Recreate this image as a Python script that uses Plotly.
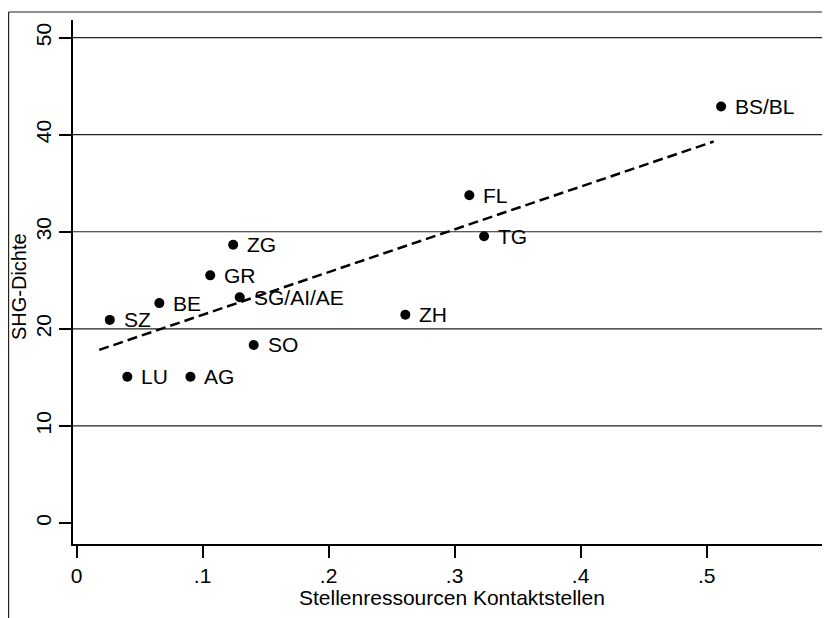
import plotly.graph_objects as go

# ---- data ----
regions = ["BS/BL", "FL", "TG", "ZH", "ZG", "GR", "BE", "SG/AI/AE", "SZ", "SO", "LU", "AG"]
stellen = [0.5115, 0.3117, 0.3234, 0.2609, 0.1243, 0.1061, 0.0657, 0.1295, 0.0264, 0.1406, 0.0403, 0.0904]
shg = [42.9, 33.76, 29.54, 21.45, 28.66, 25.51, 22.65, 23.26, 20.92, 18.34, 15.07, 15.07]

fit_x = [0.018, 0.5056]
fit_y = [17.83, 39.30]

x_ticks = [0, 0.1, 0.2, 0.3, 0.4, 0.5]
x_ticklabels = ["0", ".1", ".2", ".3", ".4", ".5"]
y_ticks = [0, 10, 20, 30, 40, 50]
y_grid = [10, 20, 30, 40, 50]

x_title = "Stellenressourcen Kontaktstellen"
y_title = "SHG-Dichte"

FONT = "Liberation Sans, Arial, Helvetica, sans-serif"
FS = 21

fig = go.Figure()

fig.add_trace(go.Scatter(
    x=fit_x, y=fit_y, mode="lines",
    line=dict(color="black", width=2.5, dash="10px,5px"),
    showlegend=False, hoverinfo="skip"))

fig.add_trace(go.Scatter(
    x=stellen, y=shg, mode="markers",
    marker=dict(color="black", size=10),
    showlegend=False))

annotations = []
for name, xv, yv in zip(regions, stellen, shg):
    annotations.append(dict(
        x=xv, y=yv, xref="x", yref="y", text=name, showarrow=False,
        xanchor="left", yanchor="middle", xshift=12,
        font=dict(family=FONT, size=FS, color="black")))

annotations.append(dict(
    x=0.5, y=-0.103, xref="paper", yref="paper", text=x_title, showarrow=False,
    xanchor="center", yanchor="middle", font=dict(family=FONT, size=FS, color="black")))
annotations.append(dict(
    x=-0.0715, y=0.492, xref="paper", yref="paper", text=y_title, showarrow=False,
    textangle=-90, xanchor="center", yanchor="middle",
    font=dict(family=FONT, size=20, color="black")))

shapes = []
for g in y_grid:
    shapes.append(dict(type="line", xref="paper", yref="y", x0=0, x1=1, y0=g, y1=g,
                       line=dict(color="#222222", width=1.2), layer="below"))
# outer partial frame
shapes.append(dict(type="line", xref="paper", yref="paper", x0=-0.0851, x1=1.0,
                   y0=1.0153, y1=1.0153, line=dict(color="#222222", width=1.2)))
shapes.append(dict(type="line", xref="paper", yref="paper", x0=-0.0851, x1=-0.0851,
                   y0=1.0153, y1=-0.15, line=dict(color="#222222", width=1.2)))

# the page body adds an 8px margin, so the figure is sized to fill the rest of the window
fig.update_layout(
    width=822, height=610,
    margin=dict(l=65, r=0, t=12, b=74),
    paper_bgcolor="white", plot_bgcolor="white",
    font=dict(family=FONT, size=FS, color="black"),
    annotations=annotations, shapes=shapes,
    xaxis=dict(range=[-0.0028, 0.5979], tickvals=x_ticks, ticktext=x_ticklabels,
               showgrid=False, zeroline=False, showline=True, linecolor="black", linewidth=2,
               ticks="outside", ticklen=12, tickwidth=2, tickcolor="black",
               tickfont=dict(family=FONT, size=FS, color="black")),
    yaxis=dict(range=[-2.17, 51.82], tickvals=y_ticks,
               showgrid=False, zeroline=False, showline=True, linecolor="black", linewidth=2,
               ticks="outside", ticklen=12, tickwidth=2, tickcolor="black", tickangle=-90,
               tickfont=dict(family=FONT, size=FS, color="black")),
)

fig.write_html("out.html")
